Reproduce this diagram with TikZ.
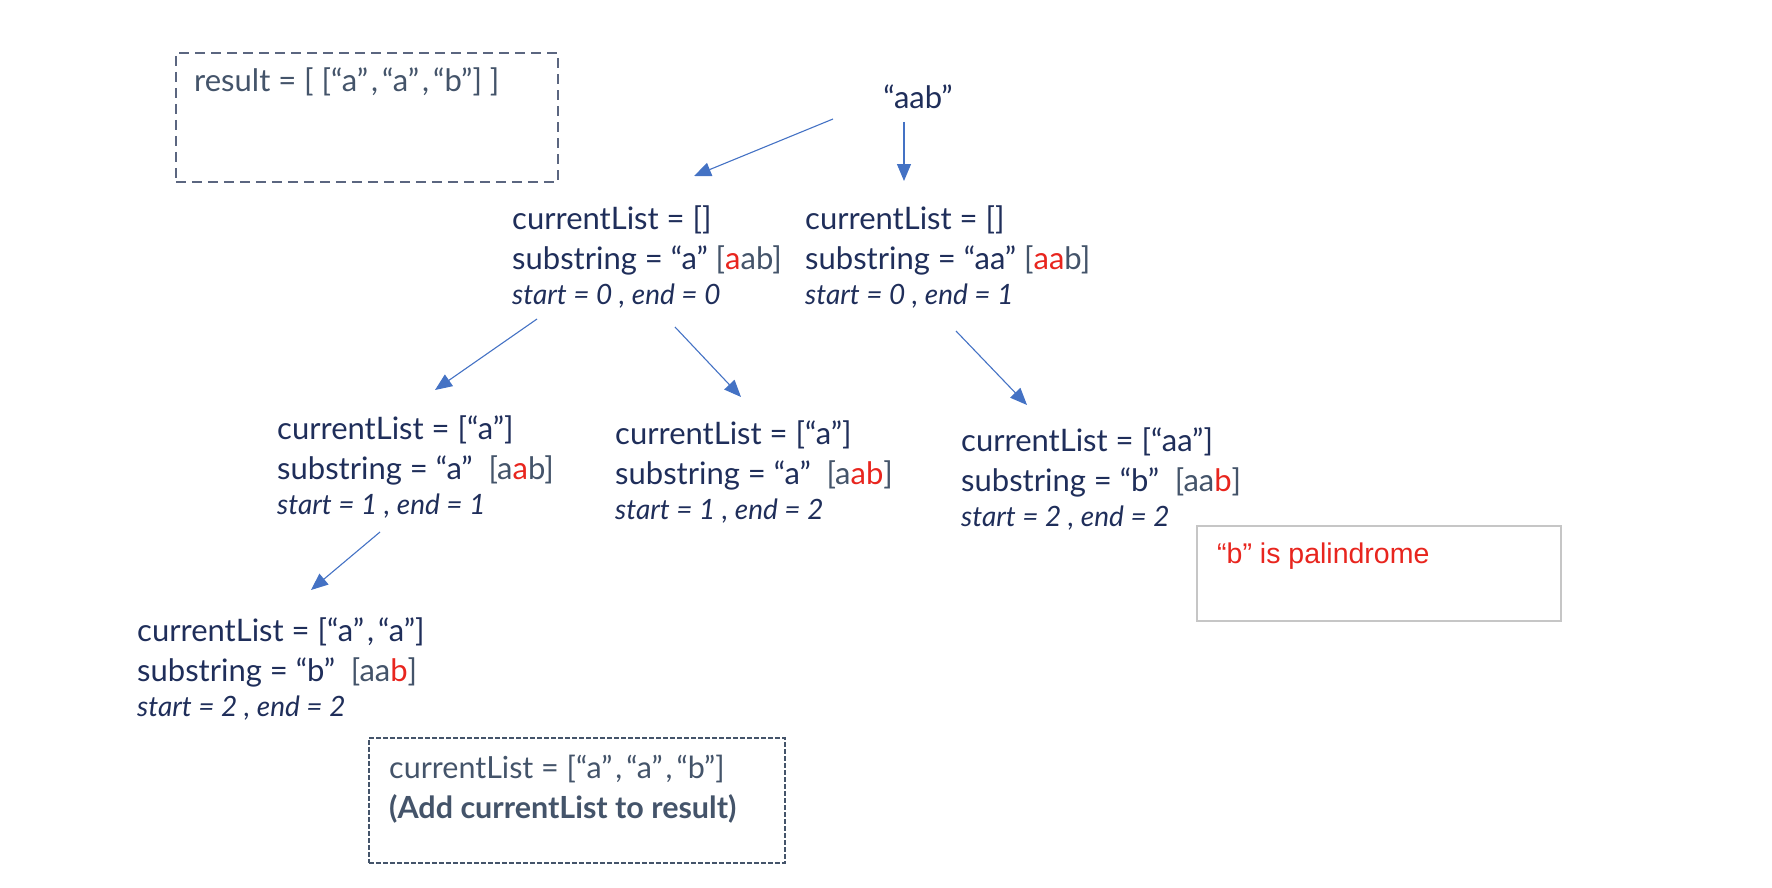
\documentclass[tikz,border=0pt]{standalone}
\usepackage{fontspec}
\setmainfont{Lato}
\newfontfamily\arialfont{Liberation Sans}
\usetikzlibrary{arrows.meta,calc,shadows}
\definecolor{navy}{HTML}{1F2E5A}
\definecolor{gb}{HTML}{44546A}
\definecolor{boxgray}{HTML}{5B6680}
\definecolor{arrowblue}{HTML}{4472C4}
\definecolor{pred}{HTML}{E8251E}
\newcommand\bk[1]{\textcolor{gb}{[#1]}}
\newcommand\rd[1]{\textcolor{pred}{#1}}
\newcommand\itl[1]{{\itshape\fontsize{28}{30}\selectfont #1}}
\newcommand\cm{\kern3pt{,}\kern4pt}
\begin{document}
\begin{tikzpicture}[x=1pt,y=-1pt,
  tnode/.style={anchor=west,align=left,inner sep=0pt,text=navy,font=\fontsize{31}{40}\selectfont},
  arr/.style={draw=arrowblue,line width=1.1pt,-{Triangle[length=17pt,width=14pt]}},
  resbox/.style={draw=boxgray,line width=1.8pt,dash pattern=on 10pt off 6pt},
  dotbox/.style={draw=gb,line width=1.5pt,dash pattern=on 5pt off 2pt},
  notebox/.style={draw=gray!45,line width=1.6pt,fill=white,drop shadow={opacity=0.25,shadow xshift=1.5pt,shadow yshift=-1.5pt}}]
\useasboundingbox (0,0) rectangle (1772,888);

% result box
\node[resbox,anchor=north west,minimum width=382pt,minimum height=129pt,inner sep=0pt] (res) at (175,52) {};
\node[anchor=west,inner sep=0pt,text=gb,font=\fontsize{31}{34}\selectfont] (restxt) at (194,82) {result = [ [“a”\cm“a”\cm“b”] ]};

% root
\node[anchor=center,inner sep=0pt,text=navy,font=\fontsize{31}{36}\selectfont] (root) at (918,97) {“aab”};

% level 1
\node[tnode] (l1a) at (512,257) {currentList = []\\ substring = “a” \bk{\rd{a}ab}\\[-5pt] \itl{start = 0 , end = 0}};
\node[tnode] (l1b) at (805,257) {currentList = []\\ substring = “aa” \bk{\rd{aa}b}\\[-5pt] \itl{start = 0 , end = 1}};

% level 2
\node[tnode] (l2a) at (277,467) {currentList = [“a”]\\ substring = “a”\ \ \bk{a\rd{a}b}\\[-5pt] \itl{start = 1 , end = 1}};
\node[tnode] (l2b) at (615,472) {currentList = [“a”]\\ substring = “a”\ \ \bk{a\rd{ab}}\\[-5pt] \itl{start = 1 , end = 2}};
\node[tnode] (l2c) at (961,479) {currentList = [“aa”]\\ substring = “b”\ \ \bk{aa\rd{b}}\\[-5pt] \itl{start = 2 , end = 2}};

% level 3
\node[tnode] (l3) at (137,669) {currentList = [“a”\cm“a”]\\ substring = “b”\ \ \bk{aa\rd{b}}\\[-5pt] \itl{start = 2 , end = 2}};

% note box
\node[notebox,anchor=north west,minimum width=364pt,minimum height=95pt,inner sep=0pt] (note) at (1196,525) {};
\node[anchor=west,inner sep=0pt,text=pred,font=\arialfont\fontsize{28.5}{32}\selectfont] (notetxt) at ($(note.north west)+(21,31)$) {“b” is palindrome};

% dotted box
\node[dotbox,anchor=north west,minimum width=416pt,minimum height=125pt,inner sep=0pt] (add) at (368,737) {};
\node[anchor=north west,align=left,inner sep=0pt,text=gb,font=\fontsize{30.5}{40}\selectfont] (addtxt) at (389,755) {currentList = [“a”\cm“a”\cm“b”]\\ \textbf{(Add currentList to result)}};

% arrow coordinates
\coordinate (r1s) at (833,119); \coordinate (r1e) at (694,176);
\coordinate (r2s) at (904,122); \coordinate (r2e) at (904,181);
\coordinate (a1s) at (537,319); \coordinate (a1e) at (435,390);
\coordinate (a2s) at (675,327); \coordinate (a2e) at (741,397);
\coordinate (b1s) at (956,331); \coordinate (b1e) at (1027,405);
\coordinate (c1s) at (380,532); \coordinate (c1e) at (311,590);

\draw[arr] (r1s) -- (r1e);
\draw[arr] (r2s) -- (r2e);
\draw[arr] (a1s) -- (a1e);
\draw[arr] (a2s) -- (a2e);
\draw[arr] (b1s) -- (b1e);
\draw[arr] (c1s) -- (c1e);
\end{tikzpicture}
\end{document}
